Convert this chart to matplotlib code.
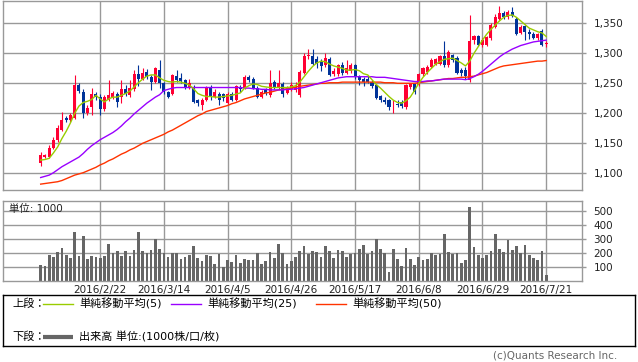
import numpy as np
import matplotlib
matplotlib.use('Agg')
import matplotlib.pyplot as plt
from matplotlib.ticker import FuncFormatter

plt.rcParams['font.family'] = ['DejaVu Sans', 'Noto Sans CJK JP']

# 日足 (2016/2/1 ~ 2016/7/21)
opens = [1118, 1128, 1127, 1142, 1156, 1172, 1192, 1189, 1192, 1247,
         1236, 1200, 1211, 1233, 1228, 1208, 1222, 1227, 1232, 1228,
         1240, 1230, 1240, 1265, 1257, 1269, 1261, 1253, 1272, 1251,
         1236, 1233, 1262, 1259, 1255, 1243, 1243, 1222, 1214, 1222,
         1243, 1228, 1233, 1232, 1217, 1232, 1223, 1244, 1243, 1261,
         1258, 1243, 1228, 1240, 1230, 1252, 1243, 1249, 1234, 1240,
         1239, 1230, 1267, 1295, 1295, 1290, 1287, 1280, 1290, 1265,
         1266, 1280, 1268, 1271, 1280, 1262, 1258, 1257, 1253, 1247,
         1229, 1223, 1222, 1215, 1216, 1219, 1210, 1244, 1249, 1247,
         1265, 1269, 1278, 1283, 1283, 1295, 1280, 1297, 1293, 1273,
         1272, 1256, 1322, 1329, 1314, 1314, 1325, 1344, 1358, 1368,
         1361, 1369, 1358, 1334, 1345, 1336, 1332, 1326, 1338, 1316]
highs = [1135, 1133, 1147, 1160, 1180, 1202, 1195, 1201, 1264, 1250,
         1240, 1214, 1242, 1236, 1232, 1231, 1255, 1238, 1236, 1255,
         1248, 1255, 1272, 1280, 1275, 1274, 1264, 1277, 1289, 1253,
         1238, 1266, 1272, 1268, 1257, 1258, 1247, 1224, 1225, 1245,
         1248, 1240, 1236, 1234, 1236, 1236, 1247, 1247, 1264, 1264,
         1260, 1246, 1239, 1243, 1272, 1256, 1272, 1252, 1246, 1252,
         1252, 1272, 1300, 1307, 1307, 1296, 1290, 1300, 1294, 1275,
         1282, 1285, 1289, 1284, 1283, 1264, 1261, 1262, 1256, 1249,
         1231, 1228, 1224, 1222, 1222, 1222, 1249, 1251, 1250, 1268,
         1278, 1281, 1292, 1293, 1298, 1321, 1305, 1299, 1295, 1275,
         1278, 1364, 1331, 1331, 1326, 1329, 1350, 1366, 1379, 1371,
         1373, 1378, 1360, 1347, 1347, 1340, 1335, 1334, 1341, 1320]
lows = [1113, 1126, 1125, 1140, 1153, 1170, 1185, 1186, 1190, 1234,
        1192, 1197, 1198, 1222, 1198, 1204, 1220, 1224, 1211, 1217,
        1229, 1228, 1238, 1245, 1255, 1258, 1239, 1250, 1242, 1232,
        1225, 1230, 1252, 1250, 1240, 1241, 1217, 1213, 1206, 1221,
        1222, 1225, 1214, 1220, 1215, 1220, 1221, 1236, 1241, 1252,
        1240, 1226, 1225, 1230, 1228, 1240, 1240, 1227, 1232, 1237,
        1236, 1228, 1266, 1290, 1280, 1276, 1270, 1278, 1262, 1262,
        1263, 1264, 1266, 1268, 1258, 1247, 1246, 1250, 1242, 1224,
        1219, 1216, 1206, 1201, 1210, 1209, 1208, 1240, 1232, 1245,
        1262, 1266, 1276, 1281, 1280, 1278, 1278, 1285, 1265, 1262,
        1258, 1252, 1315, 1312, 1310, 1312, 1322, 1342, 1356, 1358,
        1358, 1360, 1331, 1332, 1322, 1324, 1324, 1323, 1312, 1310]
closes = [1130, 1130, 1142, 1156, 1175, 1189, 1189, 1198, 1247, 1238,
          1200, 1209, 1233, 1227, 1208, 1228, 1230, 1234, 1219, 1241,
          1232, 1243, 1265, 1257, 1268, 1261, 1253, 1275, 1251, 1236,
          1228, 1264, 1256, 1254, 1242, 1251, 1219, 1217, 1223, 1243,
          1228, 1236, 1222, 1225, 1233, 1223, 1245, 1240, 1261, 1256,
          1242, 1228, 1236, 1234, 1251, 1243, 1251, 1233, 1243, 1247,
          1244, 1269, 1295, 1298, 1283, 1282, 1279, 1293, 1264, 1270,
          1280, 1267, 1276, 1280, 1260, 1256, 1253, 1253, 1246, 1226,
          1222, 1219, 1211, 1216, 1214, 1212, 1247, 1249, 1236, 1265,
          1275, 1278, 1289, 1290, 1295, 1280, 1303, 1289, 1268, 1268,
          1262, 1321, 1329, 1314, 1322, 1327, 1347, 1361, 1368, 1361,
          1369, 1362, 1333, 1344, 1335, 1332, 1326, 1332, 1314, 1317]

ma5 = [1122, 1123, 1125, 1134, 1144, 1158, 1170, 1184, 1200, 1212,
       1218, 1220, 1223, 1230, 1224, 1219, 1224, 1227, 1227, 1230,
       1233, 1237, 1244, 1251, 1257, 1262, 1264, 1264, 1259, 1255,
       1253, 1252, 1253, 1252, 1250, 1247, 1241, 1233, 1230, 1228,
       1228, 1227, 1227, 1228, 1229, 1230, 1232, 1234, 1242, 1246,
       1249, 1248, 1245, 1244, 1243, 1243, 1243, 1243, 1243, 1244,
       1246, 1252, 1261, 1270, 1278, 1284, 1287, 1286, 1282, 1279,
       1277, 1275, 1272, 1272, 1273, 1271, 1266, 1264, 1256, 1248,
       1242, 1235, 1228, 1222, 1218, 1217, 1221, 1227, 1238, 1250,
       1260, 1268, 1275, 1282, 1286, 1290, 1291, 1292, 1288, 1284,
       1279, 1287, 1300, 1311, 1322, 1332, 1340, 1347, 1354, 1360,
       1363, 1364, 1360, 1354, 1348, 1342, 1339, 1336, 1334, 1328]
ma25 = [1093, 1095, 1097, 1101, 1106, 1111, 1115, 1119, 1123, 1127,
        1133, 1140, 1146, 1151, 1156, 1160, 1164, 1168, 1173, 1179,
        1186, 1192, 1199, 1205, 1211, 1217, 1222, 1227, 1231, 1238,
        1240, 1242, 1243, 1243, 1243, 1243, 1243, 1243, 1243, 1243,
        1243, 1243, 1243, 1243, 1243, 1243, 1243, 1243, 1242, 1242,
        1241, 1241, 1240, 1240, 1239, 1239, 1239, 1239, 1240, 1240,
        1241, 1242, 1243, 1245, 1247, 1249, 1251, 1253, 1255, 1257,
        1259, 1260, 1261, 1261, 1261, 1261, 1261, 1261, 1261, 1260,
        1260, 1260, 1259, 1258, 1257, 1256, 1255, 1254, 1253, 1253,
        1253, 1254, 1254, 1255, 1256, 1257, 1257, 1257, 1257, 1257,
        1256, 1258, 1261, 1265, 1270, 1276, 1282, 1288, 1294, 1299,
        1303, 1307, 1310, 1313, 1315, 1317, 1319, 1320, 1321, 1322]
ma50 = [1082, 1083, 1084, 1085, 1086, 1088, 1091, 1094, 1097, 1099,
        1101, 1104, 1107, 1110, 1114, 1117, 1121, 1124, 1128, 1132,
        1135, 1139, 1142, 1146, 1150, 1153, 1156, 1159, 1162, 1165,
        1169, 1172, 1176, 1180, 1184, 1188, 1192, 1196, 1199, 1203,
        1205, 1207, 1209, 1211, 1213, 1216, 1218, 1221, 1224, 1226,
        1228, 1230, 1232, 1234, 1235, 1237, 1239, 1240, 1241, 1242,
        1244, 1245, 1246, 1247, 1248, 1249, 1250, 1250, 1251, 1251,
        1251, 1252, 1252, 1252, 1252, 1252, 1252, 1252, 1252, 1252,
        1252, 1251, 1251, 1251, 1250, 1250, 1250, 1250, 1250, 1251,
        1252, 1253, 1254, 1255, 1256, 1257, 1258, 1258, 1259, 1260,
        1260, 1261, 1262, 1264, 1266, 1268, 1271, 1274, 1277, 1279,
        1280, 1281, 1282, 1283, 1284, 1285, 1286, 1287, 1287, 1288]

# 出来高 (1000株)
volume = [113, 106, 186, 169, 207, 236, 186, 166, 352, 178,
          323, 157, 178, 173, 159, 178, 265, 198, 214, 178,
          214, 178, 222, 352, 214, 198, 222, 301, 229, 198,
          171, 198, 198, 157, 171, 186, 251, 164, 142, 186,
          178, 120, 193, 94, 149, 135, 186, 128, 157, 149,
          149, 200, 120, 142, 207, 164, 265, 200, 120, 142,
          171, 214, 251, 193, 214, 207, 171, 251, 214, 164,
          222, 214, 171, 193, 200, 229, 258, 193, 214, 299,
          229, 198, 63, 229, 157, 106, 236, 157, 113, 171,
          149, 157, 200, 186, 193, 337, 207, 193, 198, 128,
          149, 533, 243, 186, 164, 186, 214, 337, 229, 207,
          294, 222, 251, 198, 258, 186, 164, 149, 214, 41]

tick_pos = [14, 29, 44, 59, 74, 89, 104, 119]
tick_labels = ['2016/2/22', '2016/3/14', '2016/4/5', '2016/4/26',
               '2016/5/17', '2016/6/8', '2016/6/29', '2016/7/21']
price_ticks = [1100, 1150, 1200, 1250, 1300, 1350]
vol_ticks = [100, 200, 300, 400, 500]

RED = '#ff0033'
BLUE = '#003399'
GRID = '#999999'
C_MA5 = '#99cc00'
C_MA25 = '#9900ff'
C_MA50 = '#ff3300'
VOLC = '#666666'
FS = 7.5
LFS = 8

W, H = 638, 362
fig = plt.figure(figsize=(W / 100, H / 100), dpi=100)
fig.patch.set_facecolor('white')


def px_axes(x0, y0, x1, y1):
    # pixel box (top-left origin) -> figure axes
    return fig.add_axes([x0 / W, 1 - y1 / H, (x1 - x0) / W, (y1 - y0) / H])


ax = px_axes(3.3, 1, 582.3, 190)
vax = px_axes(3.3, 201, 582.3, 280.5)

idx = np.arange(len(closes))
o = np.array(opens, dtype=float)
c = np.array(closes, dtype=float)
up = c >= o
cols = np.where(up, RED, BLUE)

# candles
ax.vlines(idx, lows, highs, colors=cols, lw=0.8, zorder=2)
ax.bar(idx, np.maximum(np.abs(c - o), 1.2), bottom=np.minimum(o, c),
       width=0.72, color=cols, linewidth=0, zorder=2)

# moving averages
ax.plot(idx, ma50, color=C_MA50, lw=1.0, zorder=3)
ax.plot(idx, ma25, color=C_MA25, lw=1.0, zorder=3)
ax.plot(idx, ma5, color=C_MA5, lw=1.0, zorder=3)

# volume
vax.bar(idx, volume, width=0.64, color=VOLC, linewidth=0, zorder=2)

for a in (ax, vax):
    a.set_xlim(-8.8, 127.5)
    a.set_xticks(tick_pos)
    a.grid(True, color=GRID, lw=1.0)
    a.set_axisbelow(True)
    a.yaxis.tick_right()
    a.tick_params(axis='y', length=3, width=1, color=GRID, pad=5,
                  labelsize=FS, labelcolor='#222222')
    for s in a.spines.values():
        s.set_color(GRID)
        s.set_linewidth(1.0)

ax.set_ylim(1072.2, 1387.2)
ax.set_yticks(price_ticks)
ax.yaxis.set_major_formatter(FuncFormatter(lambda v, p: f'{v:,.0f}'))
ax.tick_params(axis='x', length=0, labelbottom=False)

vax.set_ylim(0, 574)
vax.set_yticks(vol_ticks)
vax.set_xticklabels(tick_labels)
vax.tick_params(axis='x', length=0, pad=3, labelsize=FS, labelcolor='#222222')
vax.text(0.01, 0.9, '単位: 1000', transform=vax.transAxes, fontsize=FS,
         ha='left', va='center', color='#222222', zorder=5)

# legend box
lax = px_axes(3.3, 295, 635, 346)
lax.set_xlim(3.3, 635)
lax.set_ylim(346, 295)
lax.set_xticks([])
lax.set_yticks([])
for s in lax.spines.values():
    s.set_color('black')
    s.set_linewidth(1.0)

row1, row2 = 303.5, 336.5
lax.text(12, row1, '上段：', fontsize=LFS, va='center', ha='left')
legend_items = [('単純移動平均(5)', C_MA5, 43),
                ('単純移動平均(25)', C_MA25, 171),
                ('単純移動平均(50)', C_MA50, 316)]
for label, col, x0 in legend_items:
    lax.plot([x0, x0 + 30], [row1, row1], color=col, lw=1.0)
    lax.text(x0 + 36, row1, label, fontsize=LFS, va='center', ha='left')
lax.text(12, row2, '下段：', fontsize=LFS, va='center', ha='left')
lax.plot([43, 73], [row2, row2], color=VOLC, lw=3.0, solid_capstyle='butt')
lax.text(79, row2, '出来高 単位:(1000株/口/枚)', fontsize=LFS, va='center', ha='left')

fig.text(617 / W, 1 - 356 / H, '(c)Quants Research Inc.', fontsize=FS,
         color='#666666', ha='right', va='center')

fig.savefig('out.png', dpi=100)
